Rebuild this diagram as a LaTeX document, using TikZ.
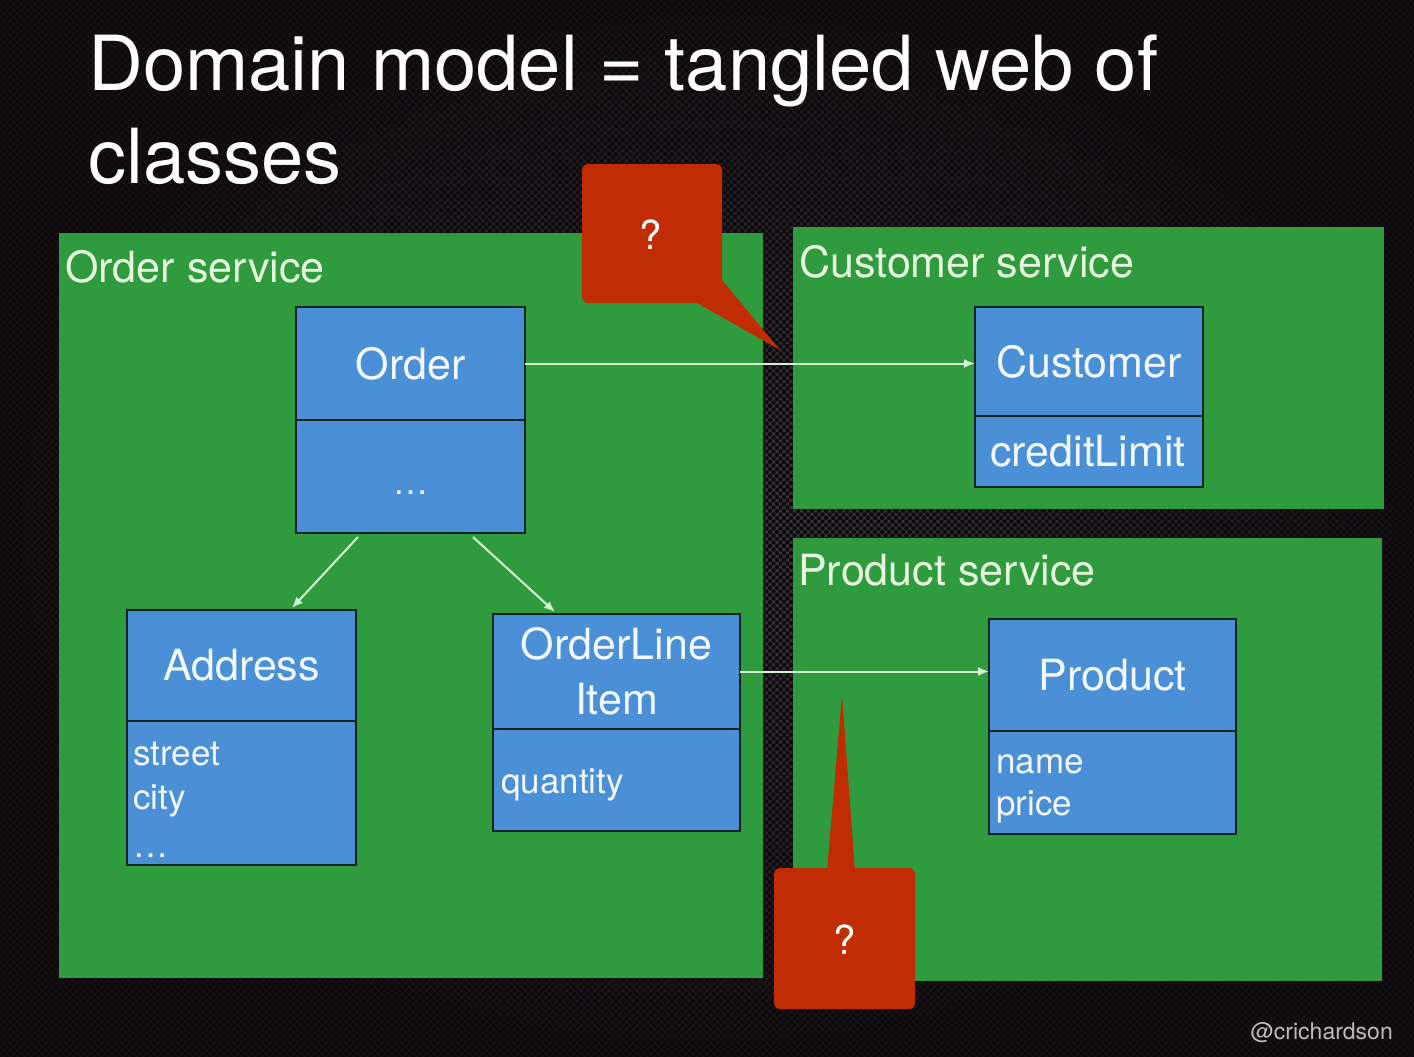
\documentclass[tikz,border=0pt]{standalone}
\usepackage{fontspec}
\setmainfont{TeX Gyre Heros}
\usetikzlibrary{arrows.meta,patterns.meta,calc}

\definecolor{bgmid}{HTML}{3C3B41}
\definecolor{bgdark}{HTML}{181114}
\definecolor{holes}{HTML}{0C0A0C}
\definecolor{panelgreen}{HTML}{2F9B3E}
\definecolor{classblue}{HTML}{4B8FD6}
\definecolor{boxline}{HTML}{0D2520}
\definecolor{labelwhite}{HTML}{E6F7DE}
\definecolor{classwhite}{HTML}{F2F8FF}
\definecolor{arrowgreen}{HTML}{D6F5D0}
\definecolor{calloutred}{HTML}{C02D05}
\definecolor{handlegray}{HTML}{BDBDBD}

\begin{document}
\begin{tikzpicture}[x=1pt,y=-1pt,
  panel/.style={fill=panelgreen, inner sep=0pt, outer sep=0pt, anchor=north west},
  paneltitle/.style={text=labelwhite, font=\fontsize{43}{50}\selectfont, anchor=base west, inner sep=0pt},
  namebox/.style={fill=classblue, draw=boxline, line width=2pt, inner sep=0pt, outer sep=0pt,
    anchor=north west, text=classwhite, font=\fontsize{43}{55}\selectfont, align=center},
  attrbox/.style={fill=classblue, draw=boxline, line width=2pt, inner sep=0pt, outer sep=0pt, anchor=north west},
  attrtext/.style={text=classwhite, font=\fontsize{35}{44}\selectfont, anchor=base west, inner sep=0pt, align=left},
  assoc/.style={draw=arrowgreen, line width=2pt, -{Latex[length=11pt,width=9pt]}},
  callout/.style={fill=calloutred, rounded corners=6pt, inner sep=0pt, outer sep=0pt, anchor=north west,
    text=white, font=\fontsize{40}{48}\selectfont},
  titletext/.style={text=white, font=\fontsize{76}{93}\selectfont, anchor=base west, inner sep=0pt}
]
\useasboundingbox (0,0) rectangle (1414,1057);

% perforated dark backdrop
\shade[inner color=bgmid, outer color=bgdark] (0,0) rectangle (1414,1057);
\fill[pattern={Dots[distance=7pt,radius=2.2pt]}, pattern color=holes] (0,0) rectangle (1414,1057);
\fill[pattern={Dots[distance=7pt,radius=2.2pt,xshift=3.5pt,yshift=3.5pt]}, pattern color=holes] (0,0) rectangle (1414,1057);

% heading
\node[titletext] (title1) at (88,90) {Domain model = tangled web of};
\node[titletext] (title2) at (88,183) {classes};

% service panels
\node[panel, minimum width=704, minimum height=745] (orderpanel) at (59,233) {};
\node[panel, minimum width=591, minimum height=282] (customerpanel) at (793,227) {};
\node[panel, minimum width=589, minimum height=443] (productpanel) at (793,538) {};

\node[paneltitle] (orderlbl) at (65,282) {Order service};
\node[paneltitle] (customerlbl) at (799,277) {Customer service};
\node[paneltitle] (productlbl) at (798,585) {Product service};

% Order
\node[attrbox, minimum width=229, minimum height=113] (orderattr) at (296,420) {};
\node[namebox, minimum width=229, minimum height=113] (order) at (296,307) {Order};
\node[attrtext, anchor=base] (orderdots) at (411,494) {\ldots};

% Customer
\node[attrbox, minimum width=228, minimum height=71] (customerattr) at (975,416) {};
\node[namebox, minimum width=228, minimum height=109] (customer) at (975,307) {Customer};
\node[attrtext, font=\fontsize{43}{50}\selectfont] (credit) at (990,466) {creditLimit};

% Address
\node[attrbox, minimum width=229, minimum height=144] (addressattr) at (127,721) {};
\node[namebox, minimum width=229, minimum height=111] (address) at (127,610) {Address};
\node[attrtext] (street) at (133,765) {street};
\node[attrtext] (city) at (133,809) {city};
\node[attrtext] (addrdots) at (133,857) {\ldots};

% OrderLineItem
\node[attrbox, minimum width=247, minimum height=102] (oliattr) at (493,729) {};
\node[namebox, minimum width=247, minimum height=115] (oli) at (493,614) {OrderLine\\Item};
\node[attrtext] (quantity) at (501,793) {quantity};

% Product
\node[attrbox, minimum width=247, minimum height=103] (productattr) at (989,731) {};
\node[namebox, minimum width=247, minimum height=112] (product) at (989,619) {Product};
\node[attrtext] (pname) at (996,773) {name};
\node[attrtext] (pprice) at (996,815) {price};

% associations
\draw[assoc] (order.east) -- (order.east -| customer.west);
\draw[assoc] (oli.east) -- (oli.east -| product.west);
\draw[assoc] ([xshift=-52.5pt,yshift=-4pt]orderattr.south) -- ([xshift=50.5pt,yshift=2pt]address.north);
\draw[assoc] ([xshift=62.5pt,yshift=-4pt]orderattr.south) -- ([xshift=-61.5pt,yshift=2pt]oli.north);

% question callouts
\node[callout, minimum width=140, minimum height=139] (q1) at (582,164) {};
\coordinate (tip1) at (780,350);
\fill[calloutred] ([xshift=-25pt]q1.south east) -- (tip1) -- ([yshift=23pt]q1.south east) -- cycle;
\node[text=white, font=\fontsize{40}{48}\selectfont, inner sep=0pt] (q1mark) at (651,235) {?};

\node[callout, minimum width=141, minimum height=141] (q2) at (774,868) {};
\coordinate (tip2) at (842,695);
\fill[calloutred] ([xshift=53pt,yshift=-3pt]q2.north west) -- (tip2) -- ([xshift=81pt,yshift=-3pt]q2.north west) -- cycle;
\node[text=white, font=\fontsize{40}{48}\selectfont, inner sep=0pt] (q2mark) at (845,940) {?};

% handle
\node[text=handlegray, font=\fontsize{23}{28}\selectfont, anchor=base east, inner sep=0pt] (handle) at (1393,1039) {@crichardson};
\end{tikzpicture}
\end{document}
